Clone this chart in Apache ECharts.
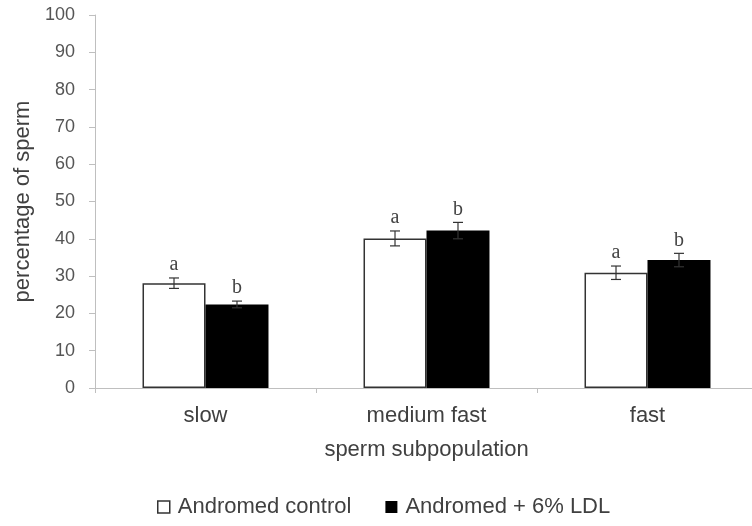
<!DOCTYPE html>
<html>
<head>
<meta charset="utf-8">
<script src="https://cdn.jsdelivr.net/npm/echarts@6/dist/echarts.min.js"></script>
<style>
  html, body { margin: 0; padding: 0; background: #fff; }
  #chart { width: 752px; height: 526px; }
</style>
</head>
<body>
<div id="chart"></div>
<script>
const categories = ['slow', 'medium fast', 'fast']
const controlValues = [28.1, 40.1, 30.9]
const controlErrors = [1.4, 2.0, 1.8]
const controlLetters = ['a', 'a', 'a']
const ldlValues = [22.4, 42.2, 34.3]
const ldlErrors = [0.9, 2.2, 1.8]
const ldlLetters = ['b', 'b', 'b']
const yTicks = { min: 0, max: 100, interval: 10 }

const BAR_FRAC = 0.285

const chart = echarts.init(document.getElementById('chart'))

// error bar + significance letter, drawn at the bar's own position in the group
const errorSeries = (values, errors, letters, side) => ({
  type: 'custom',
  silent: true,
  z: 5,
  clip: false,
  data: values.map((v, i) => [i, v, errors[i]]),
  renderItem: (params, api) => {
    const i = api.value(0)
    const v = api.value(1)
    const e = api.value(2)
    const band = api.size([1, 0])[0]
    const x = api.coord([i, v])[0] + side * band * BAR_FRAC / 2
    const yTop = api.coord([i, v + e])[1]
    const yBot = api.coord([i, v - e])[1]
    const cap = 5
    const style = { stroke: '#333', lineWidth: 1.2 }
    return {
      type: 'group',
      children: [
        { type: 'line', shape: { x1: x, y1: yTop, x2: x, y2: yBot }, style },
        { type: 'line', shape: { x1: x - cap, y1: yTop, x2: x + cap, y2: yTop }, style },
        { type: 'line', shape: { x1: x - cap, y1: yBot, x2: x + cap, y2: yBot }, style },
        {
          type: 'text',
          style: {
            text: letters[i],
            x: x,
            y: yTop - 3,
            align: 'center',
            verticalAlign: 'bottom',
            fill: '#444',
            font: '20px "Liberation Serif", "DejaVu Serif", serif'
          }
        }
      ]
    }
  }
})

const option = {
  animation: false,
  backgroundColor: '#fff',
  textStyle: { fontFamily: '"Liberation Sans", Arial, sans-serif' },
  grid: { left: 95, top: 15, width: 663, height: 373, containLabel: false, outerBoundsMode: 'none' },
  legend: {
    bottom: 3,
    left: 152,
    itemWidth: 12,
    itemHeight: 12,
    itemGap: 34,
    icon: 'rect',
    textStyle: { fontSize: 22, color: '#404040', padding: [0, 0, 0, 3] },
    data: [
      { name: 'Andromed control', itemStyle: { color: '#fff', borderColor: '#333', borderWidth: 1.5 } },
      { name: 'Andromed + 6% LDL', itemStyle: { color: '#000' } }
    ]
  },
  xAxis: {
    type: 'category',
    data: categories,
    name: 'sperm subpopulation',
    nameLocation: 'middle',
    nameGap: 51,
    nameTextStyle: { fontSize: 22, color: '#404040' },
    axisLine: { lineStyle: { color: '#bfbfbf', width: 1 } },
    axisTick: { show: true, alignWithLabel: false, length: 5, lineStyle: { color: '#bfbfbf' } },
    axisLabel: { fontSize: 22, color: '#404040', margin: 17 },
    splitLine: { show: false }
  },
  yAxis: {
    type: 'value',
    min: yTicks.min,
    max: yTicks.max,
    interval: yTicks.interval,
    name: 'percentage of sperm',
    nameLocation: 'middle',
    nameGap: 53,
    nameRotate: 90,
    nameTextStyle: { fontSize: 22, color: '#404040' },
    axisLine: { show: true, lineStyle: { color: '#bfbfbf', width: 1 } },
    axisTick: { show: true, length: 6, lineStyle: { color: '#bfbfbf' } },
    axisLabel: { fontSize: 18, color: '#555', margin: 20 },
    splitLine: { show: false }
  },
  series: [
    {
      name: 'Andromed control',
      type: 'bar',
      data: controlValues,
      barWidth: (BAR_FRAC * 100) + '%',
      barGap: '0%',
      itemStyle: { color: '#fff', borderColor: '#333', borderWidth: 1.5 }
    },
    {
      name: 'Andromed + 6% LDL',
      type: 'bar',
      data: ldlValues,
      barWidth: (BAR_FRAC * 100) + '%',
      barGap: '0%',
      itemStyle: { color: '#000' }
    },
    errorSeries(controlValues, controlErrors, controlLetters, -1),
    errorSeries(ldlValues, ldlErrors, ldlLetters, 1)
  ]
}

chart.setOption(option)
</script>
</body>
</html>
